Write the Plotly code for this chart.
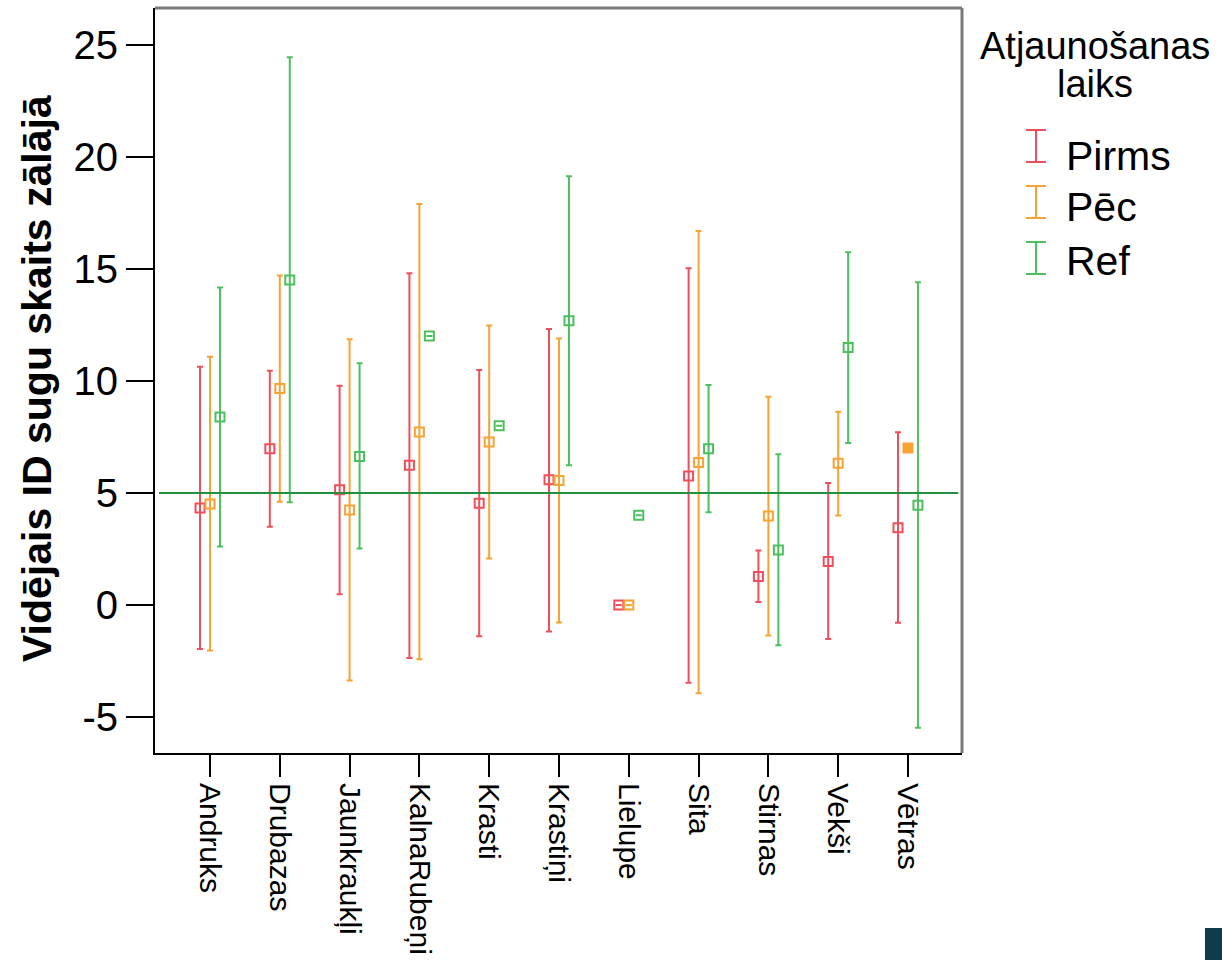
import plotly.graph_objects as go

# ---------------- data ----------------
categories = ["Andruks", "Drubazas", "Jaunkraukļi", "KalnaRubeņi", "Krasti",
              "Krastiņi", "Lielupe", "Sita", "Stirnas", "Vekši", "Vētras"]

pirms_mean = [4.33, 6.97, 5.14, 6.23, 4.54, 5.59, 0.0, 5.76, 1.27, 1.94, 3.45]
pirms_low = [-1.96, 3.49, 0.48, -2.36, -1.39, -1.18, None, -3.47, 0.13, -1.51, -0.79]
pirms_high = [10.63, 10.45, 9.78, 14.80, 10.48, 12.31, None, 15.02, 2.43, 5.44, 7.71]

pec_mean = [4.51, 9.66, 4.24, 7.72, 7.27, 5.56, 0.0, 6.36, 3.97, 6.32, 7.0]
pec_low = [-2.03, 4.61, -3.37, -2.42, 2.08, -0.78, None, -3.93, -1.36, 3.99, None]
pec_high = [11.07, 14.70, 11.86, 17.89, 12.47, 11.89, None, 16.68, 9.29, 8.62, None]

ref_mean = [8.39, 14.50, 6.63, 12.0, 8.0, 12.68, 4.0, 6.97, 2.45, 11.49, 4.45]
ref_low = [2.61, 4.58, 2.52, None, None, 6.23, None, 4.14, -1.79, 7.23, -5.47]
ref_high = [14.16, 24.43, 10.78, None, None, 19.12, None, 9.81, 6.72, 15.74, 14.40]

series_names = ["Pirms", "Pēc", "Ref"]
reference_value = 5
y_ticks = [-5, 0, 5, 10, 15, 20, 25]
y_tick_labels = ["-5", "0", "5", "10", "15", "20", "25"]

# ---------------- style ----------------
colors = ["#ef4f5a", "#f7a233", "#4cbf5e"]
offsets = [-0.143, 0.0, 0.143]
FONT = "Liberation Sans, Arial, sans-serif"

L, R, T, B = 155, 962, 8, 753
W, H = 1222, 960


def px_x(px):
    return (px - L) / (R - L)


def px_y(py):
    return (B - py) / (B - T)


series = [
    (pirms_mean, pirms_low, pirms_high),
    (pec_mean, pec_low, pec_high),
    (ref_mean, ref_low, ref_high),
]

fig = go.Figure()

for k, (name, (mean, low, high)) in enumerate(zip(series_names, series)):
    xs = [i + offsets[k] for i in range(len(categories))]
    plus = [None if h is None else h - m for m, h in zip(mean, high)]
    minus = [None if lo is None else m - lo for m, lo in zip(mean, low)]
    symbols = []
    for i in range(len(categories)):
        if name == "Pēc" and categories[i] == "Vētras":
            symbols.append("square")
        else:
            symbols.append("square-open")
    fig.add_trace(go.Scatter(
        x=xs, y=mean, mode="markers", name=name, showlegend=False,
        marker=dict(symbol=symbols, size=9, color=colors[k],
                    line=dict(color=colors[k], width=2)),
        error_y=dict(type="data", symmetric=False, array=plus, arrayminus=minus,
                     color=colors[k], thickness=2, width=3),
        hovertext=list(categories),
    ))

shapes = []
# reference line
shapes.append(dict(type="line", xref="x", yref="y", x0=-0.73, x1=10.72,
                   y0=reference_value, y1=reference_value,
                   line=dict(color="#22903e", width=2)))
# top & right frame (gray)
shapes.append(dict(type="line", xref="paper", yref="paper", x0=0, x1=1, y0=1, y1=1,
                   line=dict(color="#7a7a7a", width=3)))
shapes.append(dict(type="line", xref="paper", yref="paper", x0=1, x1=1, y0=0, y1=1,
                   line=dict(color="#7a7a7a", width=3)))

annotations = []
# y-axis title
annotations.append(dict(
    text="<b>Vidējais ID sugu skaits zālājā</b>", textangle=-90,
    xref="paper", yref="paper", x=px_x(37), y=px_y(378),
    xanchor="center", yanchor="middle", showarrow=False,
    font=dict(family=FONT, size=41, color="#000000")))

# legend (custom, to mimic error-bar glyphs)
annotations.append(dict(text="Atjaunošanas", xref="paper", yref="paper",
                        x=px_x(1095), y=px_y(46), xanchor="center", yanchor="middle",
                        showarrow=False, font=dict(family=FONT, size=38, color="#000")))
annotations.append(dict(text="laiks", xref="paper", yref="paper",
                        x=px_x(1095), y=px_y(84), xanchor="center", yanchor="middle",
                        showarrow=False, font=dict(family=FONT, size=38, color="#000")))
legend_sym_cy = [146, 202, 258]
legend_txt_cy = [156, 207, 261]
for k, name in enumerate(series_names):
    cy = legend_sym_cy[k]
    cx = 1036
    for (x0, y0, x1, y1) in [(cx, cy - 16, cx, cy + 16),
                             (cx - 10, cy - 16, cx + 10, cy - 16),
                             (cx - 10, cy + 16, cx + 10, cy + 16)]:
        shapes.append(dict(type="line", xref="paper", yref="paper",
                           x0=px_x(x0), x1=px_x(x1), y0=px_y(y0), y1=px_y(y1),
                           line=dict(color=colors[k], width=2)))
    annotations.append(dict(text=name, xref="paper", yref="paper",
                            x=px_x(1064), y=px_y(legend_txt_cy[k]),
                            xanchor="left", yanchor="middle", showarrow=False,
                            font=dict(family=FONT, size=41, color="#000")))

# logo block bottom-right
shapes.append(dict(type="rect", xref="paper", yref="paper",
                   x0=px_x(1205), x1=px_x(1222), y0=px_y(960), y1=px_y(928),
                   fillcolor="#0f3c4b", line=dict(width=0)))

fig.update_layout(
    width=W, height=H,
    margin=dict(l=L, r=W - R, t=T, b=H - B, autoexpand=False),
    paper_bgcolor="white", plot_bgcolor="white",
    showlegend=False,
    shapes=shapes, annotations=annotations,
    font=dict(family=FONT, color="#000"),
)
fig.update_xaxes(
    range=[-0.788, 10.774], tickmode="array",
    tickvals=list(range(len(categories))), ticktext=categories,
    tickangle=90, ticks="outside", ticklen=22, tickwidth=2, tickcolor="#000",
    showline=True, linecolor="#000", linewidth=2, showgrid=False, zeroline=False,
    tickfont=dict(family=FONT, size=30, color="#000"),
)
fig.update_yaxes(
    range=[-6.6, 26.63], tickmode="array", tickvals=y_ticks, ticktext=y_tick_labels,
    ticks="outside", ticklen=27, tickwidth=2, tickcolor="#000",
    showline=True, linecolor="#000", linewidth=2, showgrid=False, zeroline=False,
    tickfont=dict(family=FONT, size=40, color="#000"),
)

fig.write_html(
    "out.html",
    config={"displayModeBar": False},
    post_script="document.body.style.margin='0';document.body.style.overflow='hidden';",
)
